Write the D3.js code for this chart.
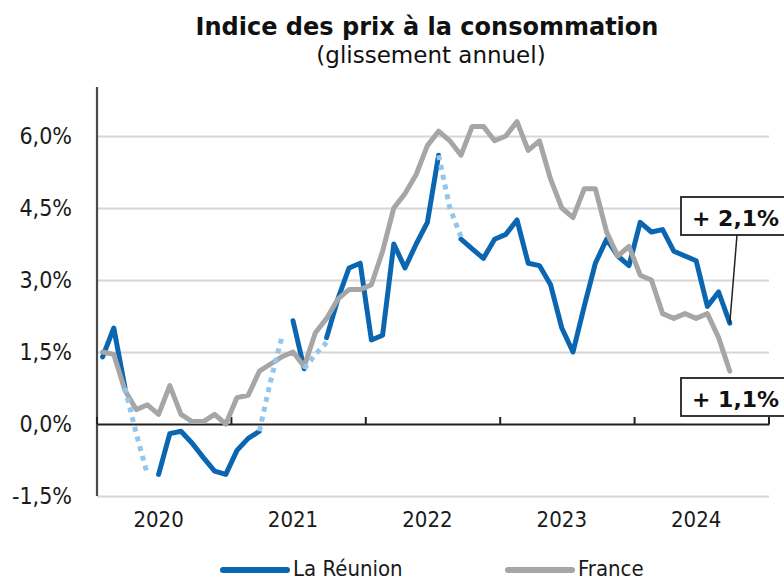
<!DOCTYPE html>
<html><head><meta charset="utf-8">
<script src="https://cdn.jsdelivr.net/npm/d3@7"></script>
<style>body{margin:0;background:#fff;overflow:hidden}</style></head>
<body><svg id="c" width="784" height="581"></svg>
<script>
const years = [2020, 2021, 2022, 2023, 2024];
const yTicks = [-1.5, 0, 1.5, 3, 4.5, 6];
const seriesNames = ["La Réunion", "France"];
// Monthly year-on-year change, Jan 2020 -> Sep 2024 (null = no data)
const reunion = [
  1.4, 2.0, 0.75, null, null, -1.05, -0.2, -0.15, -0.4, -0.7, -0.98, -1.05,
  -0.55, -0.3, -0.15, null, null, 2.15, 1.15, null, 1.8, 2.6, 3.25, 3.35,
  1.75, 1.85, 3.75, 3.25, 3.75, 4.2, 5.6, null, 3.85, 3.65, 3.45, 3.85,
  3.95, 4.25, 3.35, 3.3, 2.9, 2.0, 1.5, 2.45, 3.35, 3.85, 3.5, 3.3,
  4.2, 4.0, 4.05, 3.6, 3.5, 3.4, 2.45, 2.75, 2.1
];
const reunionEstimate = [
  null, null, 0.75, -0.2, -1.05, null, null, null, null, null, null, null,
  null, null, -0.15, 0.9, 1.8, null, 1.15, 1.45, 1.7, null, null, null,
  null, null, null, null, null, null, 5.6, 4.5, 3.9, null, null, null,
  null, null, null, null, null, null, null, null, null, null, null, null,
  null, null, null, null, null, null, null, null, null
];
const france = [
  1.5, 1.45, 0.7, 0.3, 0.4, 0.2, 0.8, 0.2, 0.05, 0.05, 0.2, 0.0,
  0.55, 0.6, 1.1, 1.25, 1.4, 1.5, 1.2, 1.9, 2.2, 2.6, 2.8, 2.8,
  2.9, 3.6, 4.5, 4.8, 5.2, 5.8, 6.1, 5.9, 5.6, 6.2, 6.2, 5.9,
  6.0, 6.3, 5.7, 5.9, 5.1, 4.5, 4.3, 4.9, 4.9, 4.0, 3.5, 3.7,
  3.1, 3.0, 2.3, 2.2, 2.3, 2.2, 2.3, 1.8, 1.1
];
const endLabels = ["+ 2,1%", "+ 1,1%"];

const months = years.flatMap(y => d3.range(1, 13).map(m => `${y}-${String(m).padStart(2, "0")}`));

const svg = d3.select("#c");
const L = 97, R = 769, T = 88, B = 496;
const x = d3.scaleBand().domain(months).range([L, R]).paddingInner(0).paddingOuter(0);
const cx = i => x(months[i]) + x.bandwidth() / 2;
const y = d3.scaleLinear().domain([-1.5, 7.0]).range([B, T]);

const BLUE = "#0b66b1", GREY = "#a6a6a6", LIGHT = "#93c6ec";
const axisFont = "'DejaVu Sans Condensed', 'DejaVu Sans', sans-serif";

// Title
svg.append("text").attr("x", 427).attr("y", 35).attr("text-anchor", "middle")
  .attr("font-family", "'DejaVu Sans', sans-serif").attr("font-weight", "bold")
  .attr("font-size", 24).attr("fill", "#111").text("Indice des prix à la consommation");
svg.append("text").attr("x", 431).attr("y", 63).attr("text-anchor", "middle")
  .attr("font-family", "'DejaVu Sans', sans-serif")
  .attr("font-size", 23).attr("fill", "#111").text("(glissement annuel)");

// Gridlines + y labels
const yAxisG = svg.append("g").attr("transform", `translate(${L},0)`)
  .call(d3.axisLeft(y).tickValues(yTicks).tickSize(-(R - L)).tickPadding(25)
    .tickFormat(d => d3.format(".1f")(d).replace(".", ",").replace("\u2212", "-") + "%"));
yAxisG.select(".domain").remove();
yAxisG.selectAll(".tick line").attr("stroke", d => d === 0 ? "none" : "#d6d6d6").attr("stroke-width", 2);
yAxisG.selectAll(".tick text").attr("font-family", axisFont).attr("font-size", 23).attr("fill", "#1a1a1a");

// Y axis line
svg.append("line").attr("x1", L).attr("x2", L).attr("y1", T - 1).attr("y2", B)
  .attr("stroke", "#4a4a4a").attr("stroke-width", 2.2);

// Zero axis with year ticks
const xAxisG = svg.append("g").attr("transform", `translate(0,${y(0)})`)
  .call(d3.axisBottom(x).tickValues([]).tickSizeOuter(0));
xAxisG.select(".domain").attr("stroke", "#222").attr("stroke-width", 2);
const yearStarts = years.map(yr => `${yr}-01`).concat([null]);
svg.selectAll("line.ytick").data(yearStarts).enter().append("line")
  .attr("x1", d => d ? x(d) : R).attr("x2", d => d ? x(d) : R)
  .attr("y1", y(0)).attr("y2", y(0) - 7).attr("stroke", "#222").attr("stroke-width", 2);

// Year labels (placed under June of each year)
svg.selectAll("text.year").data(years).enter().append("text")
  .attr("x", d => cx(months.indexOf(`${d}-06`))).attr("y", 527)
  .attr("text-anchor", "middle").attr("font-family", axisFont).attr("font-size", 22)
  .attr("fill", "#1a1a1a").text(d => d);

// Lines
const line = d3.line().defined(d => d[1] !== null).x(d => cx(d[0])).y(d => y(d[1]));
const toPts = arr => arr.map((v, i) => [i, v]);

svg.append("path").datum(toPts(reunion)).attr("d", line)
  .attr("fill", "none").attr("stroke", BLUE).attr("stroke-width", 5)
  .attr("stroke-linejoin", "round").attr("stroke-linecap", "round");
svg.append("path").datum(toPts(france)).attr("d", line)
  .attr("fill", "none").attr("stroke", GREY).attr("stroke-width", 5)
  .attr("stroke-linejoin", "round").attr("stroke-linecap", "round");
svg.append("path").datum(toPts(reunionEstimate)).attr("d", line)
  .attr("fill", "none").attr("stroke", LIGHT).attr("stroke-width", 5)
  .attr("stroke-dasharray", "5 5");

// End labels
const lastR = reunion.length - 1;
svg.append("line").attr("x1", 737).attr("y1", 235).attr("x2", cx(lastR)).attr("y2", y(reunion[lastR]))
  .attr("stroke", "#222").attr("stroke-width", 1.5);
const boxes = [{y: 197, base: 226, t: endLabels[0]}, {y: 378, base: 407, t: endLabels[1]}];
boxes.forEach(b => {
  svg.append("rect").attr("x", 681).attr("y", b.y).attr("width", 120).attr("height", 38)
    .attr("fill", "#fff").attr("stroke", "#222").attr("stroke-width", 1.8);
  svg.append("text").attr("x", 692).attr("y", b.base)
    .attr("font-family", "'DejaVu Sans', sans-serif").attr("font-weight", "bold")
    .attr("font-size", 22).attr("fill", "#111").text(b.t);
});

// Legend
const legend = [{name: seriesNames[0], c: BLUE, x: 220}, {name: seriesNames[1], c: GREY, x: 505}];
legend.forEach(l => {
  svg.append("line").attr("x1", l.x + 3).attr("x2", l.x + 67).attr("y1", 570).attr("y2", 570)
    .attr("stroke", l.c).attr("stroke-width", 6).attr("stroke-linecap", "round");
  svg.append("text").attr("x", l.x + 73).attr("y", 576)
    .attr("font-family", axisFont).attr("font-size", 22).attr("fill", "#1a1a1a").text(l.name);
});
</script>
</body></html>
